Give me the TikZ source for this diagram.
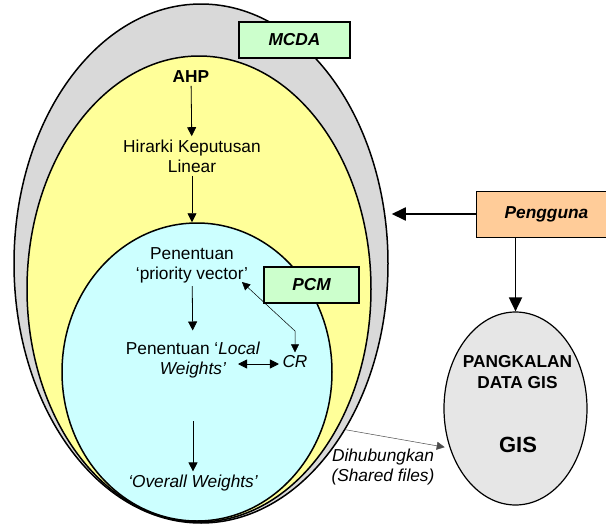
\documentclass[tikz,border=0pt]{standalone}
\usepackage{fontspec}
\setmainfont{Liberation Sans}
\usetikzlibrary{arrows.meta, positioning, shapes.geometric}
\definecolor{mcdagray}{RGB}{217,217,217}
\definecolor{ahpyellow}{RGB}{255,255,153}
\definecolor{pcmcyan}{RGB}{204,255,255}
\definecolor{taggreen}{RGB}{204,255,204}
\definecolor{userorange}{RGB}{255,204,153}
\definecolor{gisgray}{RGB}{230,230,230}

\begin{document}
\begin{tikzpicture}[
    x=1pt, y=-1pt,
    txt/.style={align=center, font=\fontsize{17.3}{19.8}\selectfont},
    txtbf/.style={align=center, font=\fontsize{17.3}{20.3}\selectfont\bfseries},
    txtit/.style={align=center, font=\fontsize{17.3}{19.5}\selectfont\itshape},
    layer/.style={draw, ellipse, line width=1.5pt, inner sep=0pt},
    tag/.style={draw, line width=2.2pt, fill=taggreen, inner sep=0pt, font=\fontsize{17.3}{19.8}\selectfont\bfseries\itshape},
    arrow/.style={-{Triangle[length=9pt, width=9pt]}, line width=0.8pt},
    thinarrow/.style={-{Triangle[length=8pt, width=8pt]}, line width=0.5pt},
    bigarrow/.style={-{Triangle[length=14pt, width=13pt]}, line width=1.8pt}
]
\useasboundingbox (0,0) rectangle (606,525);

% Lapisan MCDA / AHP / PCM
\node[layer, fill=mcdagray, minimum width=374pt, minimum height=519pt] (mcda) at (201,263.5) {};
\node[layer, fill=ahpyellow, minimum width=344pt, minimum height=466pt] (ahpell) at (199,289) {};
\node[layer, fill=pcmcyan, minimum width=270pt, minimum height=298pt] (pcm) at (197,372) {};

\node[tag, minimum width=111pt, minimum height=36pt] (mcdatag) at (294.5,40) {MCDA};
\node[tag, minimum width=95pt, minimum height=36pt] (pcmtag) at (311.5,285) {PCM};

% Langkah AHP
\node[txtbf] (ahp) at (191,76.5) {AHP};
\node[txt] (hirarki) at (192,156) {Hirarki Keputusan\\Linear};
\node[txt] (pv) at (192,265) {Penentuan\\‘priority vector’};
\node[txt] (lw) at (193,360) {Penentuan ‘\textit{Local}\\\textit{Weights’}};
\node[txtit] (cr) at (295,362) {CR};
\node[txtit] (ow) at (193,483) {‘Overall Weights’};

\draw[arrow] (ahp) -- (hirarki);
\draw[arrow] (hirarki) -- (hirarki |- pcm.north);
\draw[arrow, shorten >=8pt] (pv) -- (lw);
\draw[arrow, shorten <=40pt] (lw) -- (ow);

% CR
\coordinate (crbend) at (295,331);
\coordinate (pvend) at (242,282);
\coordinate (lwend) at (238,364);
\draw[thinarrow, {Triangle[length=8pt, width=8pt]}-{Triangle[length=8pt, width=8pt]}] (pvend) -- (crbend) -- (cr.north);
\draw[arrow, {Triangle[length=9pt, width=9pt]}-{Triangle[length=9pt, width=9pt]}] (lwend) -- (lwend -| cr.west);

% Pengguna dan GIS
\node[draw, fill=userorange, line width=0.8pt, minimum width=141pt, minimum height=46pt, txtbf, font=\fontsize{17.3}{19.8}\selectfont\bfseries\itshape] (pengguna) at (546.5,214) {Pengguna};
\node[layer, fill=gisgray, line width=1.2pt, minimum width=143pt, minimum height=193pt] (gisdb) at (515.5,408.5) {};
\node[txtbf] (gislabel) at (517.5,372) {PANGKALAN\\DATA GIS};
\node[font=\fontsize{22}{26}\selectfont\bfseries] (gisname) at (518,445) {GIS};

\draw[bigarrow, shorten >=3pt] (pengguna.west) -- (pengguna.west -| mcda.east);
\draw[bigarrow] (gisdb.north |- pengguna.south) -- (gisdb.north);

\draw[thinarrow, black!70, shorten >=5pt] (mcda.-49) -- (gisdb.211);
\node[txtit] (link) at (383,467) {Dihubungkan\\(Shared files)};

\end{tikzpicture}
\end{document}
